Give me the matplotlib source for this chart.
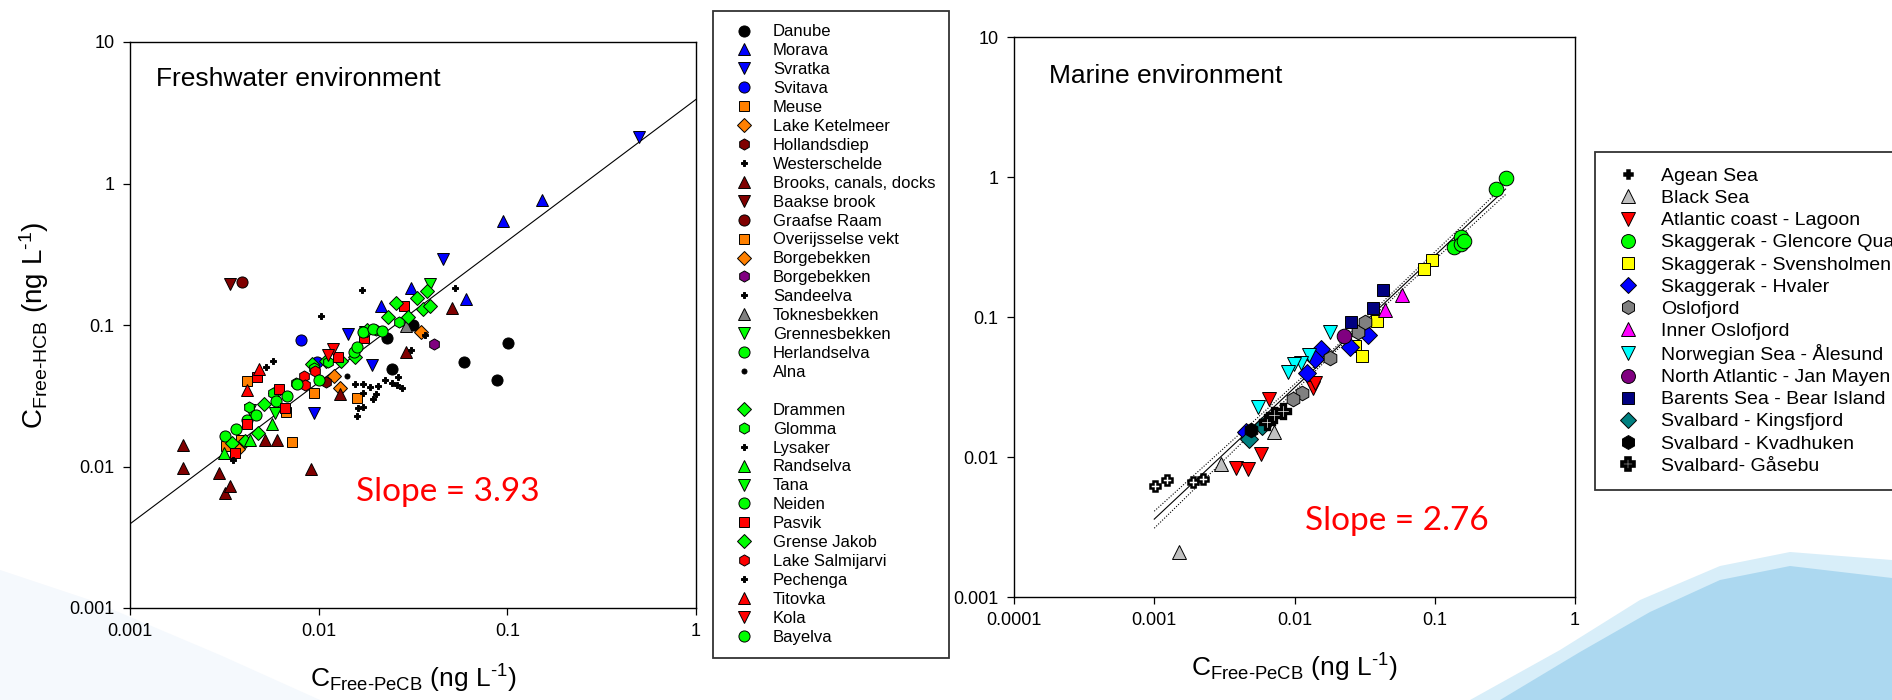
import matplotlib
matplotlib.use('Agg')
import matplotlib.pyplot as plt
from matplotlib.lines import Line2D
from matplotlib.patches import Polygon

plt.rcParams['font.family'] = 'Liberation Sans'
plt.rcParams['mathtext.fontset'] = 'custom'
plt.rcParams['mathtext.rm'] = 'Liberation Sans'
plt.rcParams['mathtext.it'] = 'Liberation Sans:italic'

# ---------------- freshwater data (x = C free PeCB, y = C free HCB, ng/L) ----------------
danube_x = [0.0230, 0.0246, 0.0316, 0.0589, 0.0881, 0.1007]
danube_y = [0.0813, 0.0485, 0.0995, 0.0545, 0.0410, 0.0750]
morava_x = [0.152, 0.0948, 0.0603, 0.0309, 0.0214]
morava_y = [0.769, 0.542, 0.153, 0.184, 0.136]
svratka_x = [0.497, 0.0455, 0.0143, 0.0191, 0.0094]
svratka_y = [2.13, 0.294, 0.0867, 0.0521, 0.0238]
svitava_x = [0.00807, 0.00977]
svitava_y = [0.0789, 0.0545]
meuse_x = [0.00417, 0.00948, 0.00675, 0.00721, 0.0160]
meuse_y = [0.0405, 0.0333, 0.0242, 0.0149, 0.0303]
ketelmeer_x = [0.0347, 0.0129, 0.0120]
ketelmeer_y = [0.0893, 0.0357, 0.0438]
hollandsdiep_x = [0.0110]
hollandsdiep_y = [0.0393]
westerschelde_x = [0.0155, 0.0171, 0.0186, 0.0206, 0.0224, 0.0246, 0.0261, 0.0278,
                   0.0171, 0.0193, 0.0202, 0.0162, 0.0171, 0.0160]
westerschelde_y = [0.0385, 0.0385, 0.0363, 0.0368, 0.0407, 0.0390, 0.0379, 0.0357,
                   0.0333, 0.0298, 0.0327, 0.0258, 0.0264, 0.0228]
brooks_x = [0.00191, 0.00191, 0.00298, 0.00319, 0.0034, 0.00519, 0.0060, 0.00912, 0.0129, 0.0289, 0.0509]
brooks_y = [0.0143, 0.0098, 0.00897, 0.00647, 0.00732, 0.0153, 0.0153, 0.00953, 0.0327, 0.0649, 0.132]
baakse_x = [0.00337]
baakse_y = [0.196]
graafse_x = [0.0039]
graafse_y = [0.202]
overijssel_x = [0.00324, 0.00388]
overijssel_y = [0.0139, 0.0155]
borge1_x = [0.00372]
borge1_y = [0.0133]
borge2_x = [0.0407]
borge2_y = [0.0740]
sandeelva_x = [0.0103, 0.0170, 0.0530, 0.0308]
sandeelva_y = [0.116, 0.177, 0.182, 0.0664]
toknes_x = [0.0291]
toknes_y = [0.0988]
grennes_x = [0.0389, 0.00434]
grennes_y = [0.196, 0.0252]
herland_x = [0.00318, 0.00366]
herland_y = [0.0164, 0.0183]
alna_x = [0.0141]
alna_y = [0.0438]
drammen_x = [0.00347, 0.00405, 0.00477, 0.00513, 0.0059, 0.00923, 0.0110, 0.0131]
drammen_y = [0.0146, 0.0152, 0.0173, 0.0277, 0.0333, 0.0533, 0.0561, 0.0561]
glomma_x = [0.00426, 0.00574, 0.00759, 0.00949, 0.0112, 0.0202, 0.0267]
glomma_y = [0.0264, 0.0333, 0.0390, 0.0496, 0.0545, 0.0920, 0.105]
lysaker_x = [0.0262, 0.0366]
lysaker_y = [0.0429, 0.085]
randselva_x = [0.00315, 0.00434, 0.00564]
randselva_y = [0.0125, 0.0155, 0.0199]
tana_x = [0.0176, 0.0059]
tana_y = [0.0887, 0.0240]
neiden_x = [0.00415, 0.00466, 0.00593]
neiden_y = [0.0212, 0.0231, 0.0292]
pasvik_x = [0.00417, 0.00362, 0.00471, 0.00667, 0.00617, 0.0126, 0.0283, 0.0173]
pasvik_y = [0.0200, 0.0125, 0.0429, 0.0258, 0.0353, 0.0594, 0.136, 0.0813]
grense_x = [0.0155, 0.0181, 0.0232, 0.0256, 0.0299, 0.0331, 0.0358, 0.0387, 0.0376]
grense_y = [0.0594, 0.0920, 0.113, 0.142, 0.114, 0.155, 0.130, 0.136, 0.175]
salmijarvi_x = [0.00834, 0.00849, 0.00955]
salmijarvi_y = [0.0436, 0.0379, 0.0471]
pechenga_x = [0.00527, 0.0057, 0.00352]
pechenga_y = [0.0507, 0.0561, 0.0112]
titovka_x = [0.00417, 0.00485]
titovka_y = [0.0350, 0.0492]
kola_x = [0.0119, 0.0112]
kola_y = [0.0673, 0.0612]
bayelva_x = [0.00682, 0.00767, 0.01004, 0.0153, 0.0160, 0.0171, 0.0195, 0.0216]
bayelva_y = [0.0314, 0.0385, 0.0407, 0.0640, 0.0698, 0.0887, 0.0933, 0.0907]

fresh_fit_x = [0.001, 1.0]
fresh_slope = 3.93

# ---------------- marine data ----------------
agean_x = [0.00101, 0.00123, 0.00188, 0.00222]
agean_y = [0.00617, 0.00683, 0.00663, 0.00698]
blacksea_x = [0.00149, 0.00297, 0.00719]
blacksea_y = [0.00208, 0.00889, 0.0151]
atlantic_x = [0.00383, 0.00465, 0.00573, 0.00659, 0.0136, 0.0139]
atlantic_y = [0.00839, 0.00815, 0.01045, 0.0261, 0.0309, 0.0338]
glencore_x = [0.324, 0.275, 0.155, 0.138, 0.153, 0.161]
glencore_y = [0.986, 0.815, 0.374, 0.318, 0.330, 0.348]
svensholmen_x = [0.0955, 0.0834, 0.0385, 0.0272, 0.0305]
svensholmen_y = [0.256, 0.221, 0.0944, 0.0621, 0.0525]
hvaler_x = [0.0154, 0.0141, 0.0123, 0.0249, 0.0333, 0.0045]
hvaler_y = [0.059, 0.0498, 0.040, 0.0607, 0.0746, 0.0151]
oslofjord_x = [0.0178, 0.0114, 0.0097, 0.0285, 0.0316]
oslofjord_y = [0.0506, 0.0288, 0.0261, 0.0775, 0.0916]
inneroslo_x = [0.0585, 0.0441]
inneroslo_y = [0.144, 0.112]
alesund_x = [0.0178, 0.0127, 0.0111, 0.00993, 0.00898, 0.0055]
alesund_y = [0.0775, 0.0536, 0.0473, 0.0463, 0.0405, 0.0228]
janmayen_x = [0.0225]
janmayen_y = [0.0734]
bear_x = [0.0427, 0.0360, 0.0254]
bear_y = [0.157, 0.116, 0.0916]
kingsfjord_x = [0.00474, 0.00589]
kingsfjord_y = [0.0135, 0.0166]
kvadhuken_x = [0.00488]
kvadhuken_y = [0.0157]
gasebu_x = [0.00638, 0.00719, 0.00823]
gasebu_y = [0.0179, 0.0199, 0.0214]

marine_fit_x = [0.001, 0.02, 0.32]
marine_fit_y = [0.0036, 0.060, 0.82]
marine_lo_y = [0.0031, 0.058, 0.75]
marine_hi_y = [0.0041, 0.062, 0.89]

fresh_xticks = [0.001, 0.01, 0.1, 1]
fresh_xlabels = ['0.001', '0.01', '0.1', '1']
yticks = [0.001, 0.01, 0.1, 1, 10]
ylabels = ['0.001', '0.01', '0.1', '1', '10']
marine_xticks = [0.0001, 0.001, 0.01, 0.1, 1]
marine_xlabels = ['0.0001', '0.001', '0.01', '0.1', '1']

BLUE, ORANGE, MAROON, GREEN, RED = '#0000ff', '#ff8000', '#800000', '#00ff00', '#ff0000'

fresh_series = [
    ('Danube', danube_x, danube_y, 'o', 'black'),
    ('Morava', morava_x, morava_y, '^', BLUE),
    ('Svratka', svratka_x, svratka_y, 'v', BLUE),
    ('Svitava', svitava_x, svitava_y, 'o', BLUE),
    ('Meuse', meuse_x, meuse_y, 's', ORANGE),
    ('Lake Ketelmeer', ketelmeer_x, ketelmeer_y, 'D', ORANGE),
    ('Hollandsdiep', hollandsdiep_x, hollandsdiep_y, 'h', MAROON),
    ('Westerschelde', westerschelde_x, westerschelde_y, 'P', 'black'),
    ('Brooks, canals, docks', brooks_x, brooks_y, '^', MAROON),
    ('Baakse brook', baakse_x, baakse_y, 'v', MAROON),
    ('Graafse Raam', graafse_x, graafse_y, 'o', MAROON),
    ('Overijsselse vekt', overijssel_x, overijssel_y, 's', ORANGE),
    ('Borgebekken', borge1_x, borge1_y, 'D', ORANGE),
    ('Borgebekken', borge2_x, borge2_y, 'h', '#800080'),
    ('Sandeelva', sandeelva_x, sandeelva_y, 'P', 'black'),
    ('Toknesbekken', toknes_x, toknes_y, '^', '#808080'),
    ('Grennesbekken', grennes_x, grennes_y, 'v', GREEN),
    ('Herlandselva', herland_x, herland_y, 'o', GREEN),
    ('Alna', alna_x, alna_y, '.', 'black'),
    None,
    ('Drammen', drammen_x, drammen_y, 'D', GREEN),
    ('Glomma', glomma_x, glomma_y, 'h', GREEN),
    ('Lysaker', lysaker_x, lysaker_y, 'P', 'black'),
    ('Randselva', randselva_x, randselva_y, '^', GREEN),
    ('Tana', tana_x, tana_y, 'v', GREEN),
    ('Neiden', neiden_x, neiden_y, 'o', GREEN),
    ('Pasvik', pasvik_x, pasvik_y, 's', RED),
    ('Grense Jakob', grense_x, grense_y, 'D', GREEN),
    ('Lake Salmijarvi', salmijarvi_x, salmijarvi_y, 'h', RED),
    ('Pechenga', pechenga_x, pechenga_y, 'P', 'black'),
    ('Titovka', titovka_x, titovka_y, '^', RED),
    ('Kola', kola_x, kola_y, 'v', RED),
    ('Bayelva', bayelva_x, bayelva_y, 'o', GREEN),
]

marine_series = [
    ('Agean Sea', agean_x, agean_y, 'P', 'white'),
    ('Black Sea', blacksea_x, blacksea_y, '^', '#c0c0c0'),
    ('Atlantic coast - Lagoon', atlantic_x, atlantic_y, 'v', RED),
    ('Skaggerak - Glencore Quay', glencore_x, glencore_y, 'o', GREEN),
    ('Skaggerak - Svensholmen', svensholmen_x, svensholmen_y, 's', '#ffff00'),
    ('Skaggerak - Hvaler', hvaler_x, hvaler_y, 'D', BLUE),
    ('Oslofjord', oslofjord_x, oslofjord_y, 'h', '#808080'),
    ('Inner Oslofjord', inneroslo_x, inneroslo_y, '^', '#ff00ff'),
    ('Norwegian Sea - Ålesund', alesund_x, alesund_y, 'v', '#00ffff'),
    ('North Atlantic - Jan Mayen', janmayen_x, janmayen_y, 'o', '#800080'),
    ('Barents Sea - Bear Island', bear_x, bear_y, 's', '#000080'),
    ('Svalbard - Kingsfjord', kingsfjord_x, kingsfjord_y, 'D', '#008080'),
    ('Svalbard - Kvadhuken', kvadhuken_x, kvadhuken_y, 'h', 'black'),
    ('Svalbard- Gåsebu', gasebu_x, gasebu_y, 'P', 'white'),
]


def marker_kw(marker, color, ms):
    kw = dict(marker=marker, markersize=ms, markerfacecolor=color,
              markeredgecolor='black', markeredgewidth=0.7, linestyle='None')
    if marker == 'P' and color == 'black':
        kw['markersize'] = ms * 0.6
    if marker == '.':
        kw['markersize'] = ms * 0.9
    if marker in ('D', 's'):
        kw['markersize'] = ms * 0.85
    return kw


def style_axes(ax, xticks, xlabels):
    ax.set_xscale('log')
    ax.set_yscale('log')
    ax.set_facecolor('none')
    ax.set_xticks(xticks)
    ax.set_xticklabels(xlabels)
    ax.set_yticks(yticks)
    ax.set_yticklabels(ylabels)
    ax.minorticks_off()
    ax.set_xlim(xticks[0], xticks[-1])
    ax.set_ylim(yticks[0], yticks[-1])
    ax.tick_params(direction='out', length=5, width=0.9, labelsize=13, pad=6, colors='black')
    for s in ax.spines.values():
        s.set_linewidth(1.0)


fig = plt.figure(figsize=(18.92, 7), dpi=100)

# background swoosh (slide decoration)
W, H = 1892.0, 700.0
def fpoly(pts, color, z=0):
    fig.add_artist(Polygon([(x / W, 1 - y / H) for x, y in pts], closed=True,
                           transform=fig.transFigure, facecolor=color, edgecolor='none', zorder=z))

fpoly([(1470, 700), (1560, 650), (1640, 600), (1720, 566), (1790, 552), (1892, 560), (1892, 700)], '#d8eef9')
fpoly([(1500, 700), (1580, 652), (1650, 612), (1720, 580), (1790, 566), (1892, 578), (1892, 700)], '#acd8f0')
fpoly([(0, 570), (90, 600), (220, 655), (320, 700), (0, 700)], '#f5f9fd')

# ---------------- freshwater panel ----------------
ax1 = fig.add_axes([130 / W, 1 - 608 / H, 566 / W, 566 / H])
style_axes(ax1, fresh_xticks, fresh_xlabels)
ax1.plot(fresh_fit_x, [fresh_slope * x for x in fresh_fit_x], color='black', lw=0.8, zorder=1)
handles, labels = [], []
for s in fresh_series:
    if s is None:
        handles.append(Line2D([], [], linestyle='None'))
        labels.append(' ')
        continue
    name, xs, ys, m, c = s
    ax1.plot(xs, ys, zorder=3, **marker_kw(m, c, 8))
    handles.append(Line2D([], [], **marker_kw(m, c, 8)))
    labels.append(name)

ax1.text(0.046, 0.922, 'Freshwater environment', transform=ax1.transAxes, fontsize=19, va='baseline')
ax1.text(0.399, 0.189, 'Slope = 3.93', transform=ax1.transAxes, fontsize=24, color='red',
         va='baseline', family='Lato')
ax1.set_xlabel(r'C$_{\text{Free-PeCB}}$ (ng L$^{\text{-1}}$)', fontsize=19)
ax1.set_ylabel(r'C$_{\text{Free-HCB}}$ (ng L$^{\text{-1}}$)', fontsize=20)
ax1.xaxis.set_label_coords(0.5, -0.097)
ax1.yaxis.set_label_coords(-0.14, 0.5)

leg1 = fig.legend(handles, labels, loc='upper left', bbox_to_anchor=(713 / W, 1 - 11 / H),
                  bbox_transform=fig.transFigure, borderaxespad=0, fancybox=False,
                  edgecolor='#333333', framealpha=1, fontsize=12, borderpad=0.8,
                  handlelength=2.1, handletextpad=0.7, labelspacing=0.235)
leg1.get_frame().set_linewidth(1.3)

# ---------------- marine panel ----------------
ax2 = fig.add_axes([1014 / W, 1 - 597 / H, 561 / W, 560 / H])
style_axes(ax2, marine_xticks, marine_xlabels)
ax2.plot(marine_fit_x, marine_fit_y, color='black', lw=0.8, zorder=1)
ax2.plot(marine_fit_x, marine_lo_y, color='black', lw=0.8, ls=(0, (1, 1.5)), zorder=1)
ax2.plot(marine_fit_x, marine_hi_y, color='black', lw=0.8, ls=(0, (1, 1.5)), zorder=1)
handles2, labels2 = [], []
for name, xs, ys, m, c in marine_series:
    kw = marker_kw(m, c, 10.5)
    kw2 = marker_kw(m, c, 10)
    if m == 'P':
        agean = name.startswith('Agean')
        kw['markersize'] = 7 if agean else 10
        kw['markeredgewidth'] = 1.8 if agean else 2.4
        kw2['markersize'] = 6 if agean else 9
        kw2['markeredgewidth'] = 1.8 if agean else 2.6
    ax2.plot(xs, ys, zorder=3, **kw)
    handles2.append(Line2D([], [], **kw2))
    labels2.append(name)

ax2.text(0.062, 0.917, 'Marine environment', transform=ax2.transAxes, fontsize=19, va='baseline')
ax2.text(0.519, 0.120, 'Slope = 2.76', transform=ax2.transAxes, fontsize=24, color='red',
         va='baseline', family='Lato')
ax2.set_xlabel(r'C$_{\text{Free-PeCB}}$ (ng L$^{\text{-1}}$)', fontsize=19)
ax2.xaxis.set_label_coords(0.5, -0.098)

leg2 = fig.legend(handles2, labels2, loc='upper left', bbox_to_anchor=(1595 / W, 1 - 152 / H),
                  bbox_transform=fig.transFigure, borderaxespad=0, fancybox=False,
                  edgecolor='#333333', framealpha=1, fontsize=14, borderpad=0.8,
                  handlelength=1.79, handletextpad=0.8, labelspacing=0.23)
leg2.get_frame().set_linewidth(1.3)

fig.savefig('out.png', dpi=100)
